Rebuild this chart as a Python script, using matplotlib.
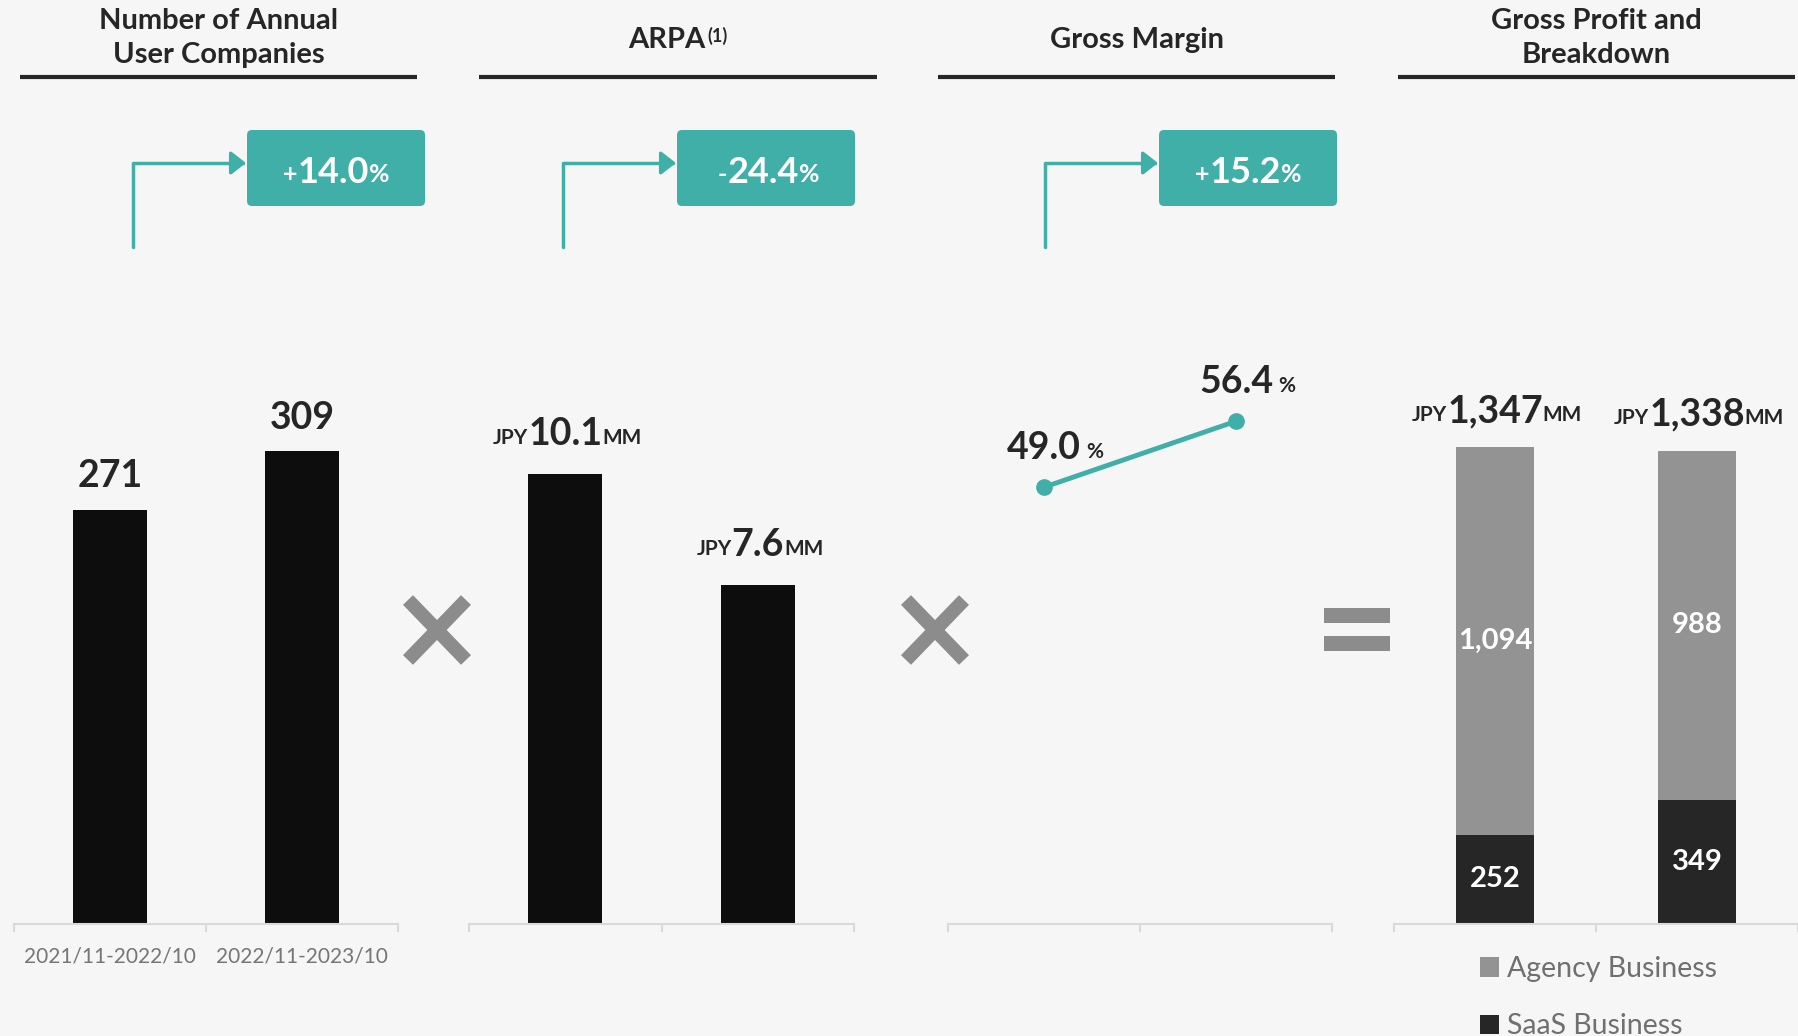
import matplotlib.pyplot as plt
from matplotlib.patches import FancyBboxPatch, Rectangle

# ---- data ----
periods = ['2021/11-2022/10', '2022/11-2023/10']
user_companies = [271, 309]
arpa_mm = [10.1, 7.6]
gross_margin = [49.0, 56.4]
gp_total_mm = [1347, 1338]
gp_agency = [1094, 988]
gp_saas = [252, 349]
growth = [14.0, -24.4, 15.2]
titles = ['Number of Annual\nUser Companies', 'ARPA', 'Gross Margin', 'Gross Profit and\nBreakdown']
legend_labels = ['Agency Business', 'SaaS Business']

BG = '#f6f6f6'
DARK = '#262626'
BLACK = '#0d0d0d'
GREY = '#939393'
TEAL = '#40afa7'
SYM = '#8c8c8c'
AXIS = '#d9d9d9'
TICK = '#767676'

plt.rcParams['font.family'] = ['Lato', 'DejaVu Sans']

W, H = 1798, 1036
fig = plt.figure(figsize=(W / 100, H / 100), dpi=100, facecolor=BG)

# overlay in pixel coords for headers, boxes, arrows and symbols
deco = fig.add_axes([0, 0, 1, 1])
deco.set_xlim(0, W)
deco.set_ylim(H, 0)
deco.axis('off')

panel_x = [(14, 398), (469, 854), (948, 1332), (1394, 1798)]
head_x = [(20, 417), (479, 877), (938, 1335), (1398, 1795)]
ymax = [408, 14.0, 70, 1762]
AX_TOP, AX_BOT = 300, 924
BW = 0.385


def panel(i):
    x0, x1 = panel_x[i]
    ax = fig.add_axes([x0 / W, 1 - AX_BOT / H, (x1 - x0) / W, (AX_BOT - AX_TOP) / H])
    ax.set_facecolor('none')
    ax.set_xlim(-0.5, 1.5)
    ax.set_ylim(0, ymax[i])
    for s in ['top', 'left', 'right']:
        ax.spines[s].set_visible(False)
    ax.spines['bottom'].set_color(AXIS)
    ax.spines['bottom'].set_linewidth(1.5)
    ax.set_yticks([])
    ax.set_xticks([-0.5, 0.5, 1.5], labels=['', '', ''])
    ax.tick_params(axis='x', which='major', length=6, width=1.5, color=AXIS)
    return ax


def value_label(ax, x, y, num, pre='', post='', dy=18, big=26, small=15, gap=0,
                color=DARK, coords='data'):
    t = ax.annotate(num, (x, y), xycoords=coords, xytext=(0, dy), textcoords='offset points',
                    ha='center', va='baseline', fontsize=big, fontweight='bold', color=color)
    lift = 0.19 * big
    if pre:
        ax.annotate(pre, (0, 0), xycoords=t, xytext=(-gap, lift), textcoords='offset points',
                    ha='right', va='baseline', fontsize=small, fontweight='bold', color=color)
    if post:
        ax.annotate(post, (1, 0), xycoords=t, xytext=(gap, lift), textcoords='offset points',
                    ha='left', va='baseline', fontsize=small, fontweight='bold', color=color)
    return t


x = [0, 1]

# panel 1: user companies
ax1 = panel(0)
ax1.bar(x, user_companies, width=BW, color=BLACK)
for i, v in enumerate(user_companies):
    value_label(ax1, i, v, str(v), dy=16, big=27)
ax1.set_xticks(x, labels=periods, minor=True)
ax1.tick_params(axis='x', which='minor', length=0, pad=16, labelsize=15, labelcolor=TICK)

# panel 2: ARPA
ax2 = panel(1)
ax2.bar(x, arpa_mm, width=BW, color=BLACK)
for i, v in enumerate(arpa_mm):
    value_label(ax2, i, v, f'{v:.1f}', pre='JPY', post='MM', dy=21, big=27)

# panel 3: gross margin
ax3 = panel(2)
ax3.plot(x, gross_margin, color=TEAL, lw=3.5, marker='o', ms=11, clip_on=False)
for i, v in enumerate(gross_margin):
    value_label(ax3, i, v, f'{v:.1f}', post='%', small=15, gap=4, dy=20, big=27)

# panel 4: gross profit breakdown
ax4 = panel(3)
b_saas = ax4.bar(x, gp_saas, width=BW, color=DARK, label=legend_labels[1])
b_agency = ax4.bar(x, gp_agency, width=BW, bottom=gp_saas, color=GREY, label=legend_labels[0])
for i in x:
    ax4.text(i, gp_saas[i] / 2, f'{gp_saas[i]:,}', ha='center', va='center',
             fontsize=21, fontweight='bold', color='white')
    ax4.text(i, gp_saas[i] + gp_agency[i] / 2, f'{gp_agency[i]:,}', ha='center', va='center',
             fontsize=21, fontweight='bold', color='white')
    value_label(ax4, i, gp_saas[i] + gp_agency[i], f'{gp_total_mm[i]:,}', pre='JPY', post='MM',
                dy=18, big=27)
ax4.legend(handles=[b_agency, b_saas], loc='upper left', bbox_to_anchor=(1480 / W, 1 - 956 / H),
           bbox_transform=fig.transFigure, frameon=False, fontsize=20.5, labelcolor='#707070',
           handlelength=0.65, handleheight=0.65, handletextpad=0.3, labelspacing=1.1,
           borderpad=0, borderaxespad=0)

# headers
for i, (x0, x1) in enumerate(head_x):
    deco.plot([x0, x1], [77, 77], color=DARK, lw=3, solid_capstyle='butt')
    cx = (x0 + x1) / 2
    ty = 63 if '\n' in titles[i] else 48
    if titles[i] == 'ARPA':
        t = deco.text(cx - 11, ty, titles[i], ha='center', va='baseline', fontsize=21,
                      fontweight='bold', color=DARK)
        deco.annotate('(1)', (1, 1), xycoords=t, xytext=(1, 0), textcoords='offset points',
                      ha='left', va='top', fontsize=13, fontweight='bold', color=DARK)
    else:
        deco.text(cx, ty, titles[i], ha='center', va='baseline', fontsize=21,
                  fontweight='bold', color=DARK, linespacing=1.4)

# growth boxes with elbow arrows
box_x = [247, 677, 1159]
for bx, g in zip(box_x, growth):
    deco.add_patch(FancyBboxPatch((bx, 130), 178, 76, boxstyle='round,pad=0,rounding_size=5',
                                  facecolor=TEAL, edgecolor='none'))
    sign = '+' if g > 0 else '-'
    value_label(deco, bx + 86, 183, f'{abs(g):.1f}', pre=sign, post='%', dy=0, big=26,
                small=18, gap=0, color='white')
    deco.annotate('', xy=(bx - 1, 163), xytext=(bx - 114, 247),
                  arrowprops=dict(arrowstyle='-|>,head_length=0.45,head_width=0.35',
                                  connectionstyle='angle,angleA=90,angleB=0,rad=0',
                                  color=TEAL, lw=2.5, shrinkA=0, shrinkB=0, mutation_scale=20))

# operator symbols
for cx in [437, 935]:
    deco.plot([cx - 29, cx + 29], [600, 660], color=SYM, lw=10, solid_capstyle='butt')
    deco.plot([cx - 29, cx + 29], [660, 600], color=SYM, lw=10, solid_capstyle='butt')
for ry in [608, 636]:
    deco.add_patch(Rectangle((1324, ry), 66, 15, facecolor=SYM, edgecolor='none'))

fig.savefig('out.png', dpi=100, facecolor=BG)
